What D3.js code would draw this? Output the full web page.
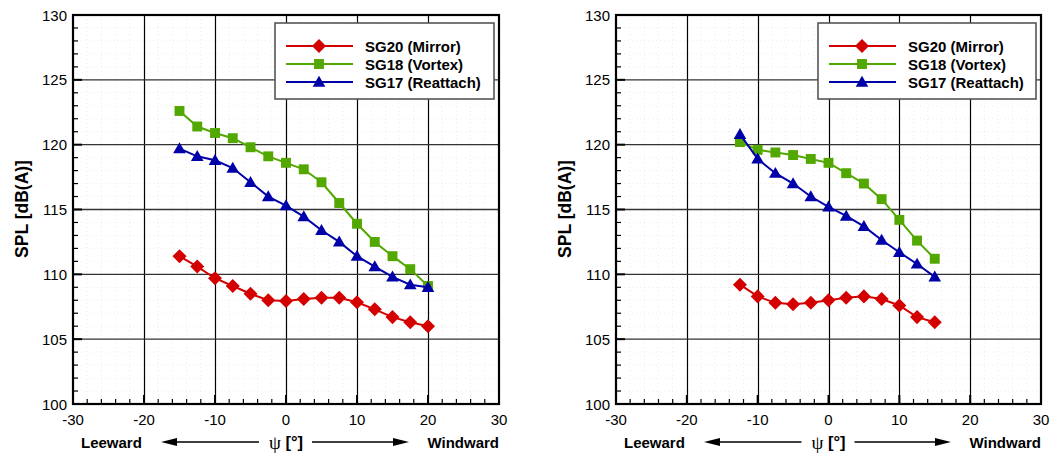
<!DOCTYPE html>
<html><head><meta charset="utf-8">
<script src="https://cdn.jsdelivr.net/npm/d3@7"></script>
<style>body{margin:0;background:#fff}svg{display:block}text{font-family:"Liberation Sans",Arial,Helvetica,sans-serif}</style>
</head><body>
<svg id="chart" width="1054" height="457"></svg>
<script>
// ---- data ----
const seriesNames = ["SG20 (Mirror)", "SG18 (Vortex)", "SG17 (Reattach)"];
const xTicks = [-30, -20, -10, 0, 10, 20, 30];
const yTicks = [100, 105, 110, 115, 120, 125, 130];

const leftPsi = [-15, -12.5, -10, -7.5, -5, -2.5, 0, 2.5, 5, 7.5, 10, 12.5, 15, 17.5, 20];
const leftSG20 = [111.4, 110.6, 109.7, 109.1, 108.5, 108.0, 107.95, 108.1, 108.2, 108.2, 107.85, 107.3, 106.7, 106.3, 106.0];
const leftSG18 = [122.6, 121.4, 120.9, 120.5, 119.8, 119.1, 118.6, 118.1, 117.1, 115.5, 113.9, 112.5, 111.4, 110.4, 109.1];
const leftSG17 = [119.7, 119.1, 118.8, 118.2, 117.1, 116.0, 115.3, 114.45, 113.4, 112.5, 111.4, 110.6, 109.8, 109.2, 109.0];

const rightPsi = [-12.5, -10, -7.5, -5, -2.5, 0, 2.5, 5, 7.5, 10, 12.5, 15];
const rightSG20 = [109.2, 108.3, 107.8, 107.7, 107.8, 108.0, 108.2, 108.3, 108.1, 107.6, 106.7, 106.3];
const rightSG18 = [120.2, 119.6, 119.4, 119.2, 118.9, 118.6, 117.8, 117.0, 115.8, 114.2, 112.6, 111.2];
const rightSG17 = [120.8, 118.9, 117.8, 117.0, 116.0, 115.2, 114.5, 113.7, 112.65, 111.7, 110.8, 109.8];

const colors = ["#d40000", "#52a800", "#0000a8"];
const symbols = [d3.symbolDiamond2, d3.symbolSquare2, d3.symbolTriangle2];
const symSize = [125, 125, 115];

const svg = d3.select("#chart");

function panel(x0, x1, psi, s20, s18, s17, legX) {
  const y0 = 15, y1 = 404;
  const x = d3.scaleLinear().domain([-30, 30]).range([x0, x1]);
  const y = d3.scaleLinear().domain([100, 130]).range([y1, y0]);
  const g = svg.append("g");

  // faint dotted minor grid
  g.append("g").selectAll("line").data(d3.range(-28, 30, 2).filter(v => v % 10 !== 0)).join("line")
    .attr("x1", d => x(d)).attr("x2", d => x(d)).attr("y1", y0).attr("y2", y1)
    .attr("stroke", "#e4e4e4").attr("stroke-width", 0.7).attr("stroke-dasharray", "1,3");
  g.append("g").selectAll("line").data(d3.range(101, 130, 1).filter(v => v % 5 !== 0)).join("line")
    .attr("y1", d => y(d)).attr("y2", d => y(d)).attr("x1", x0).attr("x2", x1)
    .attr("stroke", "#e4e4e4").attr("stroke-width", 0.7).attr("stroke-dasharray", "1,3");

  // major grid
  g.append("g").selectAll("line").data(xTicks.slice(1, -1)).join("line")
    .attr("x1", d => Math.round(x(d)) + 0.5).attr("x2", d => Math.round(x(d)) + 0.5).attr("y1", y0).attr("y2", y1)
    .attr("stroke", "#000").attr("stroke-width", 1.2);
  g.append("g").selectAll("line").data(yTicks.slice(1, -1)).join("line")
    .attr("y1", d => y(d)).attr("y2", d => y(d)).attr("x1", x0).attr("x2", x1)
    .attr("stroke", "#333").attr("stroke-width", 1.4);

  // ticks (inward)
  const ticks = g.append("g").attr("stroke", "#000");
  ticks.selectAll(".ymin").data(d3.range(100, 131, 1)).join("line")
    .attr("x1", x0).attr("x2", d => x0 + (d % 5 === 0 ? 9 : 5))
    .attr("y1", d => y(d)).attr("y2", d => y(d)).attr("stroke-width", d => d % 5 === 0 ? 2 : 1.2);
  ticks.selectAll(".xmin").data(d3.range(-30, 31, 2)).join("line")
    .attr("y1", y1).attr("y2", d => y1 - (d % 10 === 0 ? 9 : 5))
    .attr("x1", d => x(d)).attr("x2", d => x(d)).attr("stroke-width", d => d % 10 === 0 ? 2 : 1.2);

  // frame
  g.append("rect").attr("x", x0).attr("y", y0).attr("width", x1 - x0).attr("height", y1 - y0)
    .attr("fill", "none").attr("stroke", "#000").attr("stroke-width", 2.2);

  // tick labels
  g.append("g").selectAll("text").data(yTicks).join("text")
    .attr("x", x0 - 6).attr("y", d => y(d)).attr("text-anchor", "end").attr("dominant-baseline", "central")
    .attr("font-size", 15).text(d => d);
  g.append("g").selectAll("text").data(xTicks).join("text")
    .attr("x", d => x(d)).attr("y", 419).attr("text-anchor", "middle").attr("dominant-baseline", "central")
    .attr("font-size", 15).text(d => d);

  // y title
  g.append("text").attr("transform", `translate(${x0 - 51},209) rotate(-90)`)
    .attr("text-anchor", "middle").attr("dominant-baseline", "central")
    .attr("font-size", 17.5).attr("font-weight", "bold").text("SPL [dB(A)]");

  // bottom labels and arrows
  const by = 442, cx = x(0);
  g.append("text").attr("x", x0 + 8).attr("y", by).attr("dominant-baseline", "central")
    .attr("font-size", 15).attr("font-weight", "bold").text("Leeward");
  g.append("text").attr("x", x1).attr("y", by).attr("text-anchor", "end").attr("dominant-baseline", "central")
    .attr("font-size", 15).attr("font-weight", "bold").text("Windward");
  const lab = g.append("text").attr("x", cx).attr("y", by).attr("text-anchor", "middle").attr("dominant-baseline", "central");
  lab.append("tspan").attr("font-family", "'Liberation Serif','DejaVu Serif',serif").attr("font-size", 19).text("ψ ");
  lab.append("tspan").attr("font-size", 16.5).attr("font-weight", "bold").text("[°]");
  const arrow = (xa, xb) => {
    const dir = Math.sign(xb - xa);
    g.append("line").attr("x1", xa).attr("x2", xb - dir * 12).attr("y1", by).attr("y2", by)
      .attr("stroke", "#000").attr("stroke-width", 1.6);
    g.append("path").attr("d", `M${xb},${by} L${xb - dir * 16},${by - 4} L${xb - dir * 16},${by + 4} Z`).attr("fill", "#000");
  };
  arrow(cx - 27, x0 + 88);
  arrow(cx + 26, x1 - 90);

  // series
  const all = [s20, s18, s17];
  const line = d3.line().x(d => x(d[0])).y(d => y(d[1]));
  all.forEach((vals, i) => {
    const pts = psi.map((p, k) => [p, vals[k]]);
    g.append("path").datum(pts).attr("d", line).attr("fill", "none")
      .attr("stroke", colors[i]).attr("stroke-width", 2);
    g.append("g").selectAll("path").data(pts).join("path")
      .attr("transform", d => `translate(${x(d[0])},${y(d[1]) + (i === 2 ? 1 : 0)})`)
      .attr("d", d3.symbol(symbols[i], symSize[i])).attr("fill", colors[i]);
  });

  // legend
  const lg = g.append("g");
  lg.append("rect").attr("x", legX).attr("y", 23).attr("width", x1 - 5 - legX).attr("height", 76)
    .attr("fill", "#fff").attr("stroke", "#555").attr("stroke-width", 1.6);
  seriesNames.forEach((name, i) => {
    const ly = 46 + i * 18;
    lg.append("line").attr("x1", legX + 11).attr("x2", legX + 78).attr("y1", ly).attr("y2", ly)
      .attr("stroke", colors[i]).attr("stroke-width", 2);
    lg.append("path").attr("transform", `translate(${legX + 44},${ly + (i === 2 ? 1 : 0)})`)
      .attr("d", d3.symbol(symbols[i], symSize[i])).attr("fill", colors[i]);
    lg.append("text").attr("x", legX + 90).attr("y", ly).attr("dominant-baseline", "central")
      .attr("font-size", 15).attr("font-weight", "bold").text(name);
  });
}

panel(73, 499, leftPsi, leftSG20, leftSG18, leftSG17, 275);
panel(616, 1041, rightPsi, rightSG20, rightSG18, rightSG17, 818);
</script>
</body></html>
